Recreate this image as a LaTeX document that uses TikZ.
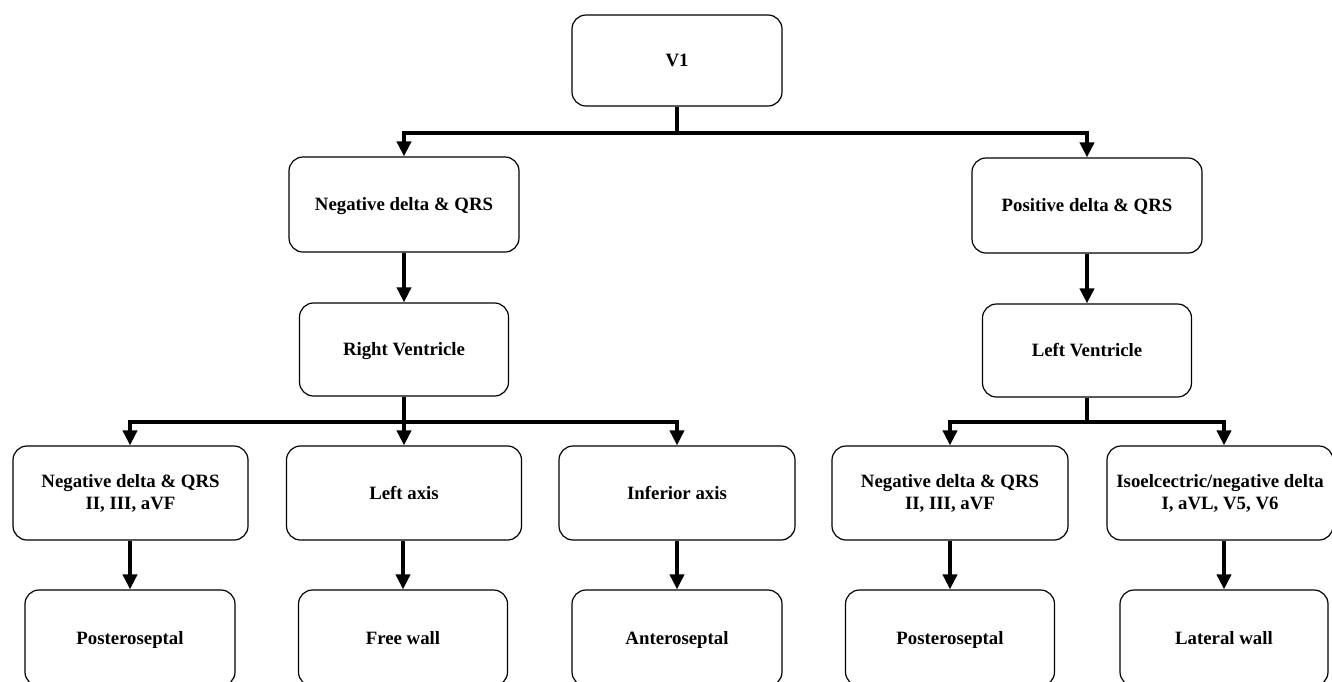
\documentclass[tikz,border=0pt]{standalone}
\usepackage{fontspec}
\setmainfont{Liberation Serif}
\usetikzlibrary{arrows.meta}
\begin{document}
\begin{tikzpicture}[x=1pt,y=-1pt,
  box/.style={draw=black, line width=1.2pt, rounded corners=14pt, inner sep=0pt,
    align=center, font=\bfseries\fontsize{18.8}{22}\selectfont},
  oneline/.style={text height=13pt, text depth=1pt},
  arr/.style={line width=4pt, line join=miter, -{Triangle[width=14pt,length=15pt]}}]
\useasboundingbox (0,0) rectangle (1332,681);

% top level
\node[box, oneline, minimum width=210pt, minimum height=91pt] (v1) at (677,60.5) {V1};

% second level
\node[box, oneline, minimum width=230pt, minimum height=95pt] (negd) at (404,204.5) {Negative delta \& QRS};
\node[box, oneline, minimum width=230pt, minimum height=95pt] (posd) at (1087,205.5) {Positive delta \& QRS};

% ventricles
\node[box, oneline, minimum width=209pt, minimum height=93pt] (rv) at (404,349.5) {Right Ventricle};
\node[box, oneline, minimum width=209pt, minimum height=93pt] (lv) at (1087,350.5) {Left Ventricle};

% criteria row
\node[box, minimum width=235pt, minimum height=94pt] (c1) at (130.5,493) {Negative delta \& QRS\\II, III, aVF};
\node[box, oneline, minimum width=235pt, minimum height=94pt] (c2) at (404,493) {Left axis};
\node[box, oneline, minimum width=236pt, minimum height=94pt] (c3) at (677,493) {Inferior axis};
\node[box, minimum width=236pt, minimum height=94pt] (c4) at (950,493) {Negative delta \& QRS\\II, III, aVF};
\node[box, minimum width=226pt, minimum height=94pt] (c5) at (1220,493) {Isoelcectric/negative delta\\I, aVL, V5, V6};

% locations
\node[box, oneline, minimum width=210pt, minimum height=96pt] (l1) at (130,638) {Posteroseptal};
\node[box, oneline, minimum width=209pt, minimum height=96pt] (l2) at (403,638) {Free wall};
\node[box, oneline, minimum width=210pt, minimum height=96pt] (l3) at (677,638) {Anteroseptal};
\node[box, oneline, minimum width=209pt, minimum height=96pt] (l4) at (950,638) {Posteroseptal};
\node[box, oneline, minimum width=208pt, minimum height=96pt] (l5) at (1224,638) {Lateral wall};

% connectors
\draw[arr] (v1.south) -- ++(0,26) -| (negd.north);
\draw[arr] (v1.south) -- ++(0,26) -| (posd.north);
\draw[arr] (negd.south) -- (rv.north);
\draw[arr] (posd.south) -- (lv.north);

\draw[arr] (rv.south) -- ++(0,25) -| (c1.north -| l1.north);
\draw[arr] (rv.south) -- (c2.north);
\draw[arr] (rv.south) -- ++(0,25) -| (c3.north);
\draw[arr] (lv.south) -- ++(0,24) -| (c4.north);
\draw[arr] (lv.south) -- ++(0,24) -| (c5.north -| l5.north);

\draw[arr] (c1.south -| l1.north) -- (l1.north);
\draw[arr] (c2.south -| l2.north) -- (l2.north);
\draw[arr] (c3.south) -- (l3.north);
\draw[arr] (c4.south -| l4.north) -- (l4.north);
\draw[arr] (c5.south -| l5.north) -- (l5.north);
\end{tikzpicture}
\end{document}
